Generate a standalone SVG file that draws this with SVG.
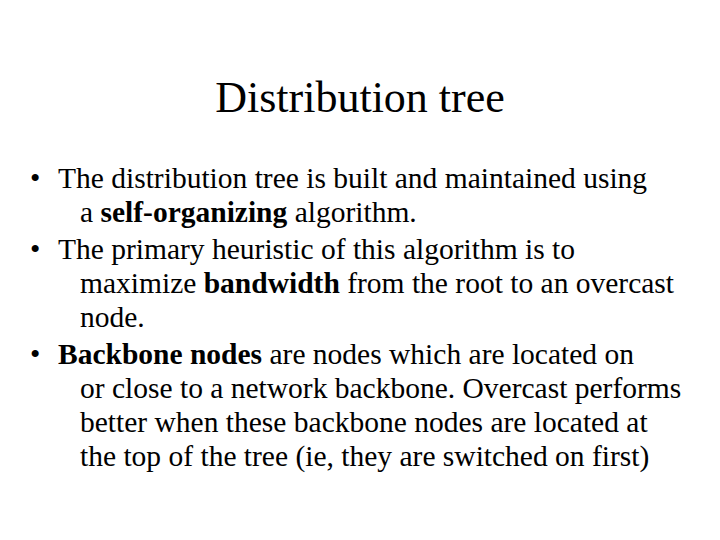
<svg xmlns="http://www.w3.org/2000/svg" width="720" height="540" viewBox="0 0 720 540">
<style>
text{font-family:"Liberation Serif","Times New Roman",serif;fill:#000}
.t{font-size:44px}
.b{font-size:29.5px}
</style>
<rect width="720" height="540" fill="#fff"/>
<g id="title"><text class="t" x="360" y="112" text-anchor="middle">Distribution tree</text></g>
<g id="bullets">
<text class="b" x="30" y="188">•</text>
<text class="b" x="58" y="188">The distribution tree is built and maintained using</text>
<text class="b" x="80" y="222">a <tspan font-weight="bold">self-organizing</tspan> algorithm.</text>
<text class="b" x="30" y="259">•</text>
<text class="b" x="58" y="259">The primary heuristic of this algorithm is to</text>
<text class="b" x="80" y="293">maximize <tspan font-weight="bold">bandwidth</tspan> from the root to an overcast</text>
<text class="b" x="80" y="327">node.</text>
<text class="b" x="30" y="364">•</text>
<text class="b" x="58" y="364"><tspan font-weight="bold">Backbone nodes</tspan> are nodes which are located on</text>
<text class="b" x="80" y="398">or close to a network backbone. Overcast performs</text>
<text class="b" x="80" y="432">better when these backbone nodes are located at</text>
<text class="b" x="80" y="466">the top of the tree (ie, they are switched on first)</text>
</g>
</svg>
